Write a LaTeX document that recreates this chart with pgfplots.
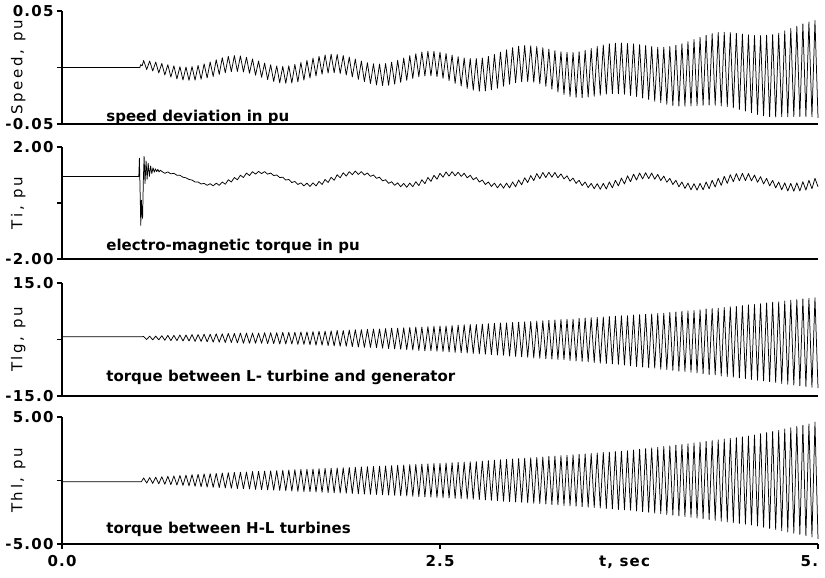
\documentclass[border=0pt]{standalone}
\usepackage{fontspec}
\setmainfont{DejaVu Sans}
\newfontfamily\tickfont[LetterSpace=8]{DejaVu Sans}
\newfontfamily\labfont[LetterSpace=18]{DejaVu Sans}
\usepackage{pgfplots}
\pgfplotsset{compat=1.18}

\newcommand{\tickf}{\tickfont\bfseries\fontsize{15}{15}\selectfont}
\newcommand{\panelf}{\bfseries\fontsize{15}{15}\selectfont}
\newcommand{\labf}{\labfont\fontsize{15}{15}\selectfont}

\pgfplotsset{
  panel/.style={
    scale only axis,
    width=756pt,
    xmin=0, xmax=5,
    clip=false,
    scaled y ticks=false,
    axis x line*=bottom,
    axis y line*=left,
    axis line style={line width=1.3pt, black},
    xtick=\empty,
    tick align=outside,
    major tick length=5pt,
    tick style={line width=1.1pt, black},
    yticklabel style={font=\tickf},
    xticklabel style={font=\tickf, yshift=-3pt},
    every axis y label/.style={at={(axis description cs:-0.058,0.5)}, rotate=90, anchor=center, font=\labf},
  },
  sig/.style={black, line width=0.75pt, line join=round, mark=none},
}

\begin{document}
\begin{tikzpicture}
\path[use as bounding box] (0,0) rectangle (825pt,578pt);

% speed deviation
\begin{axis}[panel, at={(62pt,454pt)}, anchor=south west, height=113pt,
  ymin=-0.05, ymax=0.05, ytick={-0.05,0,0.05}, yticklabels={-0.05,,0.05},
  ylabel={Speed, pu}]
\addplot[sig] coordinates {
(0,0) (0.515,0) (0.52,0.0025) (0.53,0.0015)
(0.54,0.0062) (0.56,-0.0018) (0.58,0.0057) (0.60,-0.0031) (0.62,0.0048) (0.64,-0.0048)
(0.66,0.0036) (0.68,-0.0066) (0.70,0.0025) (0.72,-0.0085) (0.74,0.0015) (0.76,-0.0101)
(0.78,0.0007) (0.80,-0.0111) (0.82,0.0004) (0.84,-0.0114) (0.86,0.0008) (0.88,-0.0112)
(0.90,0.0018) (0.92,-0.0104) (0.94,0.0032) (0.96,-0.0092) (0.98,0.0049) (1.00,-0.0079)
(1.02,0.0069) (1.04,-0.0061) (1.06,0.0087) (1.08,-0.0047) (1.10,0.0099) (1.12,-0.0037)
(1.14,0.0105) (1.16,-0.0035) (1.18,0.0102) (1.20,-0.0040) (1.22,0.0091) (1.24,-0.0051)
(1.26,0.0076) (1.28,-0.0068) (1.30,0.0057) (1.32,-0.0087) (1.34,0.0039) (1.36,-0.0107)
(1.38,0.0024) (1.40,-0.0124) (1.42,0.0014) (1.44,-0.0136) (1.46,0.0010) (1.48,-0.0140)
(1.50,0.0015) (1.52,-0.0137) (1.54,0.0027) (1.56,-0.0127) (1.58,0.0044) (1.60,-0.0112)
(1.62,0.0063) (1.64,-0.0093) (1.66,0.0083) (1.68,-0.0075) (1.70,0.0099) (1.72,-0.0059)
(1.74,0.0111) (1.76,-0.0049) (1.78,0.0117) (1.80,-0.0047) (1.82,0.0115) (1.84,-0.0053)
(1.86,0.0106) (1.88,-0.0066) (1.90,0.0092) (1.92,-0.0084) (1.94,0.0075) (1.96,-0.0105)
(1.98,0.0057) (2.00,-0.0125) (2.02,0.0042) (2.04,-0.0142) (2.06,0.0033) (2.08,-0.0155)
(2.10,0.0030) (2.12,-0.0160) (2.14,0.0035) (2.16,-0.0157) (2.18,0.0047) (2.20,-0.0147)
(2.22,0.0064) (2.24,-0.0132) (2.26,0.0084) (2.28,-0.0114) (2.30,0.0105) (2.32,-0.0097)
(2.34,0.0122) (2.36,-0.0082) (2.38,0.0137) (2.40,-0.0075) (2.42,0.0144) (2.44,-0.0074)
(2.46,0.0144) (2.48,-0.0082) (2.50,0.0136) (2.52,-0.0096) (2.54,0.0124) (2.56,-0.0116)
(2.58,0.0110) (2.60,-0.0140) (2.62,0.0096) (2.64,-0.0164) (2.66,0.0085) (2.68,-0.0185)
(2.70,0.0079) (2.72,-0.0201) (2.74,0.0080) (2.76,-0.0210) (2.78,0.0085) (2.80,-0.0207)
(2.82,0.0098) (2.84,-0.0198) (2.86,0.0115) (2.88,-0.0183) (2.90,0.0136) (2.92,-0.0166)
(2.94,0.0156) (2.96,-0.0148) (2.98,0.0175) (3.00,-0.0135) (3.02,0.0188) (3.04,-0.0126)
(3.06,0.0195) (3.08,-0.0125) (3.10,0.0193) (3.12,-0.0131) (3.14,0.0185) (3.16,-0.0145)
(3.18,0.0175) (3.20,-0.0167) (3.22,0.0162) (3.24,-0.0192) (3.26,0.0149) (3.28,-0.0217)
(3.30,0.0139) (3.32,-0.0239) (3.34,0.0134) (3.36,-0.0256) (3.38,0.0133) (3.40,-0.0265)
(3.42,0.0139) (3.44,-0.0267) (3.46,0.0152) (3.48,-0.0262) (3.50,0.0168) (3.52,-0.0254)
(3.54,0.0185) (3.56,-0.0245) (3.58,0.0200) (3.60,-0.0236) (3.62,0.0210) (3.64,-0.0232)
(3.66,0.0216) (3.68,-0.0232) (3.70,0.0217) (3.72,-0.0237) (3.74,0.0213) (3.76,-0.0247)
(3.78,0.0209) (3.80,-0.0257) (3.82,0.0202) (3.84,-0.0270) (3.86,0.0194) (3.88,-0.0284)
(3.90,0.0186) (3.92,-0.0298) (3.94,0.0179) (3.96,-0.0311) (3.98,0.0180) (4.00,-0.0326)
(4.02,0.0186) (4.04,-0.0336) (4.06,0.0196) (4.08,-0.0342) (4.10,0.0211) (4.12,-0.0343)
(4.14,0.0229) (4.16,-0.0341) (4.18,0.0248) (4.20,-0.0338) (4.22,0.0267) (4.24,-0.0335)
(4.26,0.0285) (4.28,-0.0333) (4.30,0.0300) (4.32,-0.0334) (4.34,0.0310) (4.36,-0.0340)
(4.38,0.0312) (4.40,-0.0346) (4.42,0.0309) (4.44,-0.0357) (4.46,0.0303) (4.48,-0.0371)
(4.50,0.0296) (4.52,-0.0386) (4.54,0.0289) (4.56,-0.0401) (4.58,0.0284) (4.60,-0.0416)
(4.62,0.0282) (4.64,-0.0428) (4.66,0.0285) (4.68,-0.0435) (4.70,0.0292) (4.72,-0.0438)
(4.74,0.0304) (4.76,-0.0436) (4.78,0.0324) (4.80,-0.0436) (4.82,0.0345) (4.84,-0.0435)
(4.86,0.0366) (4.88,-0.0434) (4.90,0.0386) (4.92,-0.0434) (4.94,0.0403) (4.96,-0.0437)
(4.98,0.0415) (5.00,-0.0445)
};
\node[anchor=base west, font=\panelf] at (axis description cs:0.054,0.026) {speed deviation in pu};
\end{axis}

% electro-magnetic torque
\begin{axis}[panel, at={(62pt,319pt)}, anchor=south west, height=112pt,
  ymin=-2, ymax=2, ytick={-2,0,2}, yticklabels={-2.00,,2.00},
  ylabel={Ti, pu}]
\addplot[sig] coordinates {
(0,0.95) (0.508,0.95) (0.512,1.60) (0.517,0.30) (0.521,-0.80) (0.525,0.10) (0.529,-0.40)
(0.533,-0.55) (0.538,0.80) (0.543,1.66) (0.549,0.70) (0.556,1.50) (0.563,0.85) (0.570,1.42)
(0.578,0.95) (0.586,1.32) (0.594,1.05) (0.602,1.26) (0.610,1.10) (0.618,1.22) (0.626,1.12)
(0.634,1.20) (0.642,1.11) (0.650,1.17)
(0.66,1.13) (0.68,1.06) (0.70,1.11) (0.72,1.04) (0.74,1.06) (0.76,0.99) (0.78,0.99) (0.80,0.92)
(0.82,0.90) (0.84,0.84) (0.86,0.82) (0.88,0.75) (0.90,0.75) (0.92,0.68) (0.94,0.70) (0.96,0.63)
(0.98,0.69) (1.00,0.61) (1.02,0.71) (1.04,0.63) (1.06,0.75) (1.08,0.67) (1.10,0.83) (1.12,0.75)
(1.14,0.91) (1.16,0.83) (1.18,0.99) (1.20,0.91) (1.22,1.07) (1.24,0.98) (1.26,1.12) (1.28,1.03)
(1.30,1.13) (1.32,1.05) (1.34,1.12) (1.36,1.03) (1.38,1.07) (1.40,0.98) (1.42,1.00) (1.44,0.91)
(1.46,0.92) (1.48,0.82) (1.50,0.84) (1.52,0.73) (1.54,0.77) (1.56,0.66) (1.58,0.72) (1.60,0.61)
(1.62,0.71) (1.64,0.59) (1.66,0.72) (1.68,0.61) (1.70,0.77) (1.72,0.66) (1.74,0.84) (1.76,0.73)
(1.78,0.92) (1.80,0.81) (1.82,1.01) (1.84,0.90) (1.86,1.08) (1.88,0.96) (1.90,1.12) (1.92,1.01)
(1.94,1.14) (1.96,1.02) (1.98,1.12) (2.00,1.00) (2.02,1.07) (2.04,0.95) (2.06,1.00) (2.08,0.88)
(2.10,0.92) (2.12,0.79) (2.14,0.83) (2.16,0.70) (2.18,0.76) (2.20,0.63) (2.22,0.72) (2.24,0.58)
(2.26,0.70) (2.28,0.56) (2.30,0.71) (2.32,0.58) (2.34,0.76) (2.36,0.62) (2.38,0.83) (2.40,0.69)
(2.42,0.91) (2.44,0.77) (2.46,0.99) (2.48,0.85) (2.50,1.06) (2.52,0.92) (2.54,1.11) (2.56,0.96)
(2.58,1.12) (2.60,0.97) (2.62,1.10) (2.64,0.95) (2.66,1.06) (2.68,0.90) (2.70,0.99) (2.72,0.83)
(2.74,0.91) (2.76,0.75) (2.78,0.82) (2.80,0.66) (2.82,0.75) (2.84,0.59) (2.86,0.71) (2.88,0.54)
(2.90,0.69) (2.92,0.53) (2.94,0.71) (2.96,0.54) (2.98,0.75) (3.00,0.58) (3.02,0.82) (3.04,0.65)
(3.06,0.90) (3.08,0.73) (3.10,0.98) (3.12,0.80) (3.14,1.05) (3.16,0.87) (3.18,1.09) (3.20,0.91)
(3.22,1.10) (3.24,0.92) (3.26,1.09) (3.28,0.90) (3.30,1.04) (3.32,0.86) (3.34,0.97) (3.36,0.78)
(3.38,0.89) (3.40,0.70) (3.42,0.81) (3.44,0.62) (3.46,0.75) (3.48,0.55) (3.50,0.70) (3.52,0.51)
(3.54,0.69) (3.56,0.49) (3.58,0.70) (3.60,0.50) (3.62,0.75) (3.64,0.54) (3.66,0.81) (3.68,0.61)
(3.70,0.89) (3.72,0.68) (3.74,0.97) (3.76,0.76) (3.78,1.03) (3.80,0.82) (3.82,1.07) (3.84,0.86)
(3.86,1.08) (3.88,0.87) (3.90,1.07) (3.92,0.85) (3.94,1.02) (3.96,0.80) (3.98,0.96) (4.00,0.74)
(4.02,0.88) (4.04,0.66) (4.06,0.81) (4.08,0.58) (4.10,0.75) (4.12,0.52) (4.14,0.71) (4.16,0.47)
(4.18,0.69) (4.20,0.46) (4.22,0.70) (4.24,0.47) (4.26,0.75) (4.28,0.51) (4.30,0.81) (4.32,0.57)
(4.34,0.88) (4.36,0.63) (4.38,0.95) (4.40,0.70) (4.42,1.01) (4.44,0.76) (4.46,1.05) (4.48,0.79)
(4.50,1.06) (4.52,0.80) (4.54,1.05) (4.56,0.79) (4.58,1.00) (4.60,0.74) (4.62,0.94) (4.64,0.68)
(4.66,0.88) (4.68,0.61) (4.70,0.81) (4.72,0.54) (4.74,0.75) (4.76,0.47) (4.78,0.72) (4.80,0.43)
(4.82,0.70) (4.84,0.42) (4.86,0.72) (4.88,0.43) (4.90,0.76) (4.92,0.46) (4.94,0.81) (4.96,0.51)
(4.98,0.88) (5.00,0.58)
};
\node[anchor=base west, font=\panelf] at (axis description cs:0.054,0.073) {electro-magnetic torque in pu};
\end{axis}

% torque L-turbine / generator
\begin{axis}[panel, at={(62pt,182pt)}, anchor=south west, height=113pt,
  ymin=-15, ymax=15, ytick={-15,0,15}, yticklabels={-15.0,,15.0},
  ylabel={Tlg, pu}]
\addplot[sig] coordinates {
(0,0.7) (0.525,0.7)
(0.54,0.8) (0.56,0.0) (0.58,0.9) (0.60,-0.1) (0.62,0.9) (0.64,-0.1) (0.66,1.0) (0.68,-0.2)
(0.70,1.1) (0.72,-0.3) (0.74,1.1) (0.76,-0.3) (0.78,1.2) (0.80,-0.4) (0.82,1.2) (0.84,-0.4)
(0.86,1.3) (0.88,-0.5) (0.90,1.3) (0.92,-0.5) (0.94,1.4) (0.96,-0.6) (0.98,1.4) (1.00,-0.7)
(1.02,1.5) (1.04,-0.7) (1.06,1.5) (1.08,-0.8) (1.10,1.6) (1.12,-0.8) (1.14,1.6) (1.16,-0.9)
(1.18,1.7) (1.20,-1.0) (1.22,1.7) (1.24,-1.0) (1.26,1.7) (1.28,-1.0) (1.30,1.7) (1.32,-1.0)
(1.34,1.8) (1.36,-1.1) (1.38,1.8) (1.40,-1.1) (1.42,1.8) (1.44,-1.2) (1.46,1.9) (1.48,-1.2)
(1.50,1.9) (1.52,-1.2) (1.54,1.9) (1.56,-1.3) (1.58,2.0) (1.60,-1.3) (1.62,2.0) (1.64,-1.4)
(1.66,2.1) (1.68,-1.5) (1.70,2.2) (1.72,-1.5) (1.74,2.2) (1.76,-1.6) (1.78,2.3) (1.80,-1.7)
(1.82,2.4) (1.84,-1.8) (1.86,2.4) (1.88,-1.8) (1.90,2.5) (1.92,-1.9) (1.94,2.6) (1.96,-2.0)
(1.98,2.6) (2.00,-2.1) (2.02,2.7) (2.04,-2.1) (2.06,2.8) (2.08,-2.2) (2.10,2.8) (2.12,-2.3)
(2.14,2.9) (2.16,-2.4) (2.18,3.0) (2.20,-2.5) (2.22,3.0) (2.24,-2.6) (2.26,3.1) (2.28,-2.7)
(2.30,3.2) (2.32,-2.8) (2.34,3.3) (2.36,-2.9) (2.38,3.3) (2.40,-3.0) (2.42,3.4) (2.44,-3.0)
(2.46,3.5) (2.48,-3.1) (2.50,3.6) (2.52,-3.2) (2.54,3.6) (2.56,-3.3) (2.58,3.7) (2.60,-3.4)
(2.62,3.8) (2.64,-3.5) (2.66,3.9) (2.68,-3.6) (2.70,4.0) (2.72,-3.7) (2.74,4.0) (2.76,-3.8)
(2.78,4.1) (2.80,-3.9) (2.82,4.2) (2.84,-4.0) (2.86,4.3) (2.88,-4.1) (2.90,4.4) (2.92,-4.2)
(2.94,4.4) (2.96,-4.4) (2.98,4.5) (3.00,-4.5) (3.02,4.6) (3.04,-4.6) (3.06,4.7) (3.08,-4.7)
(3.10,4.8) (3.12,-4.9) (3.14,4.9) (3.16,-5.0) (3.18,5.0) (3.20,-5.1) (3.22,5.1) (3.24,-5.2)
(3.26,5.2) (3.28,-5.3) (3.30,5.3) (3.32,-5.4) (3.34,5.4) (3.36,-5.6) (3.38,5.4) (3.40,-5.7)
(3.42,5.6) (3.44,-5.8) (3.46,5.7) (3.48,-5.9) (3.50,5.8) (3.52,-6.1) (3.54,5.9) (3.56,-6.3)
(3.58,6.0) (3.60,-6.4) (3.62,6.1) (3.64,-6.5) (3.66,6.2) (3.68,-6.6) (3.70,6.3) (3.72,-6.8)
(3.74,6.3) (3.76,-7.0) (3.78,6.5) (3.80,-7.2) (3.82,6.6) (3.84,-7.3) (3.86,6.7) (3.88,-7.5)
(3.90,6.8) (3.92,-7.6) (3.94,6.9) (3.96,-7.9) (3.98,7.0) (4.00,-8.0) (4.02,7.2) (4.04,-8.2)
(4.06,7.3) (4.08,-8.4) (4.10,7.5) (4.12,-8.5) (4.14,7.6) (4.16,-8.7) (4.18,7.7) (4.20,-8.9)
(4.22,7.9) (4.24,-9.1) (4.26,8.1) (4.28,-9.3) (4.30,8.2) (4.32,-9.4) (4.34,8.3) (4.36,-9.7)
(4.38,8.5) (4.40,-9.8) (4.42,8.7) (4.44,-10.0) (4.46,8.8) (4.48,-10.2) (4.50,9.0) (4.52,-10.4)
(4.54,9.2) (4.56,-10.6) (4.58,9.3) (4.60,-10.8) (4.62,9.5) (4.64,-11.0) (4.66,9.7) (4.68,-11.2)
(4.70,9.9) (4.72,-11.4) (4.74,10.0) (4.76,-11.7) (4.78,10.2) (4.80,-11.9) (4.82,10.4) (4.84,-12.1)
(4.86,10.6) (4.88,-12.3) (4.90,10.8) (4.92,-12.5) (4.94,10.9) (4.96,-12.7) (4.98,11.1) (5.00,-12.9)
};
\node[anchor=base west, font=\panelf] at (axis description cs:0.054,0.127) {torque between L- turbine and generator};
\end{axis}

% torque H-L turbines
\begin{axis}[panel, at={(62pt,34pt)}, anchor=south west, height=127pt,
  ymin=-5, ymax=5, ytick={-5,0,5}, yticklabels={-5.00,,5.00},
  xtick={0,2.5,5}, xticklabels={0.0,2.5,{\makebox[0pt][r]{5.}}},
  ylabel={Thl, pu}]
\addplot[sig] coordinates {
(0,-0.1) (0.525,-0.1)
(0.54,0.20) (0.56,-0.20) (0.58,0.23) (0.60,-0.23) (0.62,0.26) (0.64,-0.26) (0.66,0.30) (0.68,-0.30)
(0.70,0.33) (0.72,-0.33) (0.74,0.36) (0.76,-0.36) (0.78,0.39) (0.80,-0.39) (0.82,0.42) (0.84,-0.42)
(0.86,0.46) (0.88,-0.46) (0.90,0.49) (0.92,-0.49) (0.94,0.52) (0.96,-0.52) (0.98,0.54) (1.00,-0.54)
(1.02,0.56) (1.04,-0.56) (1.06,0.59) (1.08,-0.59) (1.10,0.61) (1.12,-0.61) (1.14,0.63) (1.16,-0.63)
(1.18,0.65) (1.20,-0.65) (1.22,0.67) (1.24,-0.67) (1.26,0.70) (1.28,-0.70) (1.30,0.72) (1.32,-0.72)
(1.34,0.74) (1.36,-0.74) (1.38,0.76) (1.40,-0.76) (1.42,0.78) (1.44,-0.78) (1.46,0.81) (1.48,-0.81)
(1.50,0.83) (1.52,-0.83) (1.54,0.85) (1.56,-0.85) (1.58,0.87) (1.60,-0.87) (1.62,0.89) (1.64,-0.89)
(1.66,0.91) (1.68,-0.91) (1.70,0.93) (1.72,-0.93) (1.74,0.95) (1.76,-0.95) (1.78,0.97) (1.80,-0.97)
(1.82,0.99) (1.84,-0.99) (1.86,1.01) (1.88,-1.01) (1.90,1.03) (1.92,-1.03) (1.94,1.05) (1.96,-1.05)
(1.98,1.07) (2.00,-1.07) (2.02,1.09) (2.04,-1.09) (2.06,1.11) (2.08,-1.11) (2.10,1.13) (2.12,-1.13)
(2.14,1.15) (2.16,-1.15) (2.18,1.17) (2.20,-1.17) (2.22,1.20) (2.24,-1.20) (2.26,1.22) (2.28,-1.22)
(2.30,1.25) (2.32,-1.25) (2.34,1.27) (2.36,-1.27) (2.38,1.29) (2.40,-1.29) (2.42,1.31) (2.44,-1.31)
(2.46,1.34) (2.48,-1.34) (2.50,1.36) (2.52,-1.36) (2.54,1.38) (2.56,-1.38) (2.58,1.40) (2.60,-1.40)
(2.62,1.43) (2.64,-1.43) (2.66,1.45) (2.68,-1.45) (2.70,1.48) (2.72,-1.48) (2.74,1.50) (2.76,-1.50)
(2.78,1.53) (2.80,-1.53) (2.82,1.56) (2.84,-1.56) (2.86,1.60) (2.88,-1.60) (2.90,1.63) (2.92,-1.63)
(2.94,1.66) (2.96,-1.66) (2.98,1.69) (3.00,-1.69) (3.02,1.72) (3.04,-1.72) (3.06,1.76) (3.08,-1.76)
(3.10,1.79) (3.12,-1.79) (3.14,1.82) (3.16,-1.82) (3.18,1.85) (3.20,-1.85) (3.22,1.89) (3.24,-1.89)
(3.26,1.92) (3.28,-1.92) (3.30,1.96) (3.32,-1.96) (3.34,1.99) (3.36,-1.99) (3.38,2.03) (3.40,-2.03)
(3.42,2.06) (3.44,-2.06) (3.46,2.10) (3.48,-2.10) (3.50,2.13) (3.52,-2.13) (3.54,2.17) (3.56,-2.17)
(3.58,2.21) (3.60,-2.21) (3.62,2.24) (3.64,-2.24) (3.66,2.28) (3.68,-2.28) (3.70,2.31) (3.72,-2.31)
(3.74,2.35) (3.76,-2.35) (3.78,2.40) (3.80,-2.40) (3.82,2.46) (3.84,-2.46) (3.86,2.51) (3.88,-2.51)
(3.90,2.57) (3.92,-2.57) (3.94,2.62) (3.96,-2.62) (3.98,2.68) (4.00,-2.68) (4.02,2.73) (4.04,-2.73)
(4.06,2.79) (4.08,-2.79) (4.10,2.84) (4.12,-2.84) (4.14,2.90) (4.16,-2.90) (4.18,2.96) (4.20,-2.96)
(4.22,3.02) (4.24,-3.02) (4.26,3.08) (4.28,-3.08) (4.30,3.14) (4.32,-3.14) (4.34,3.20) (4.36,-3.20)
(4.38,3.26) (4.40,-3.26) (4.42,3.32) (4.44,-3.32) (4.46,3.38) (4.48,-3.38) (4.50,3.44) (4.52,-3.44)
(4.54,3.50) (4.56,-3.50) (4.58,3.59) (4.60,-3.59) (4.62,3.68) (4.64,-3.68) (4.66,3.77) (4.68,-3.77)
(4.70,3.86) (4.72,-3.86) (4.74,3.95) (4.76,-3.95) (4.78,4.05) (4.80,-4.05) (4.82,4.15) (4.84,-4.15)
(4.86,4.25) (4.88,-4.25) (4.90,4.35) (4.92,-4.35) (4.94,4.45) (4.96,-4.45) (4.98,4.60) (5.00,-4.60)
};
\node[anchor=base west, font=\panelf] at (axis description cs:0.054,0.08) {torque between H-L turbines};
\node[anchor=north, font=\tickf, yshift=-8pt] at (axis cs:3.72,-5) {t, sec};
\end{axis}
\end{tikzpicture}
\end{document}
